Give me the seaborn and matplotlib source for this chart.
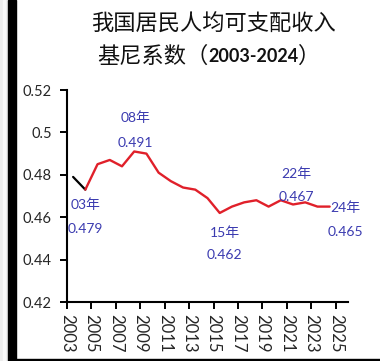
import numpy as np
import pandas as pd
import matplotlib
matplotlib.use('Agg')
import matplotlib.pyplot as plt
import seaborn as sns
from matplotlib.patches import Rectangle

# Gini coefficient of per-capita disposable income, 2003-2024
years = list(range(2003, 2025))
gini = [0.479, 0.473, 0.485, 0.487, 0.484, 0.491, 0.490, 0.481, 0.477, 0.474,
        0.473, 0.469, 0.462, 0.465, 0.467, 0.468, 0.465, 0.468, 0.466, 0.467,
        0.465, 0.465]

# labelled points: (year label, value text, x, y of label line)
notes = [('03年', '0.479', 2004.0, 0.4657, 0.4544),
         ('08年', '0.491', 2008.1, 0.5068, 0.4950),
         ('15年', '0.462', 2015.4, 0.4525, 0.4420),
         ('22年', '0.467', 2021.3, 0.4804, 0.4695),
         ('24年', '0.465', 2025.3, 0.4643, 0.4530)]

xtick_pos = np.arange(2002.5, 2025, 2)
xtick_lab = [str(int(p + 0.5)) for p in xtick_pos]
ytick_pos = [0.42, 0.44, 0.46, 0.48, 0.50, 0.52]
ytick_lab = ['0.42', '0.44', '0.46', '0.48', '0.5', '0.52']

df = pd.DataFrame({'year': years, 'gini': gini})

sns.set_style('ticks')
plt.rcParams['font.family'] = ['Lato', 'Noto Sans CJK SC', 'DejaVu Sans']

fig = plt.figure(figsize=(3.8, 3.61), dpi=100)
W, H = 380, 361
ax = fig.add_axes([67 / W, 1 - 302 / H, (348 - 67) / W, (302 - 90) / H])

sns.lineplot(data=df.iloc[:2], x='year', y='gini', color='black', lw=1.6, ax=ax)
sns.lineplot(data=df.iloc[1:], x='year', y='gini', color='#e0202a', lw=1.7, ax=ax)

ax.set_xlim(2002.5, 2025.5)
ax.set_ylim(0.42, 0.52)
ax.set_xticks(xtick_pos)
ax.set_xticklabels(xtick_lab, rotation=270, fontsize=12)
ax.set_yticks(ytick_pos)
ax.set_yticklabels(ytick_lab, fontsize=10.5)
ax.set_xlabel('')
ax.set_ylabel('')
ax.tick_params(axis='both', direction='out', length=5, width=1.4, color='black')
ax.tick_params(axis='y', pad=6)
ax.tick_params(axis='x', pad=4)
sns.despine(ax=ax)
for s in ('left', 'bottom'):
    ax.spines[s].set_linewidth(1.5)
    ax.spines[s].set_color('black')

for yl, vl, x, y1, y2 in notes:
    ax.text(x, y1, yl, color='#3b3bb0', fontsize=10, ha='center', va='center', clip_on=False)
    ax.text(x, y2, vl, color='#3b3bb0', fontsize=10, ha='center', va='center', clip_on=False)

# title
fig.text(213 / W, 1 - 24 / H, '我国居民人均可支配收入', fontsize=16, ha='center', va='center',
         family=['Noto Sans CJK SC'], color='#111111')
fig.canvas.draw()
r = fig.canvas.get_renderer()
t1 = fig.text(97 / W, 1 - 56 / H, '基尼系数（', fontsize=16, ha='left', va='center',
              family=['Noto Sans CJK SC'], color='#111111')
x1 = t1.get_window_extent(r).x1
t2 = fig.text(x1 / W, 1 - 56 / H, '2003-2024', fontsize=13, fontweight='bold', ha='left',
              va='center', family=['Lato'], color='#111111')
x2 = t2.get_window_extent(r).x1
fig.text(x2 / W, 1 - 56 / H, '）', fontsize=16, ha='left', va='center',
         family=['Noto Sans CJK SC'], color='#111111')

# window frame remnants
fig.patches.append(Rectangle((0, 0), 8 / W, 1, transform=fig.transFigure, color='#ececec', zorder=0))
fig.patches.append(Rectangle((3 / W, 0), 2 / W, 1, transform=fig.transFigure, color='#f8f8f8', zorder=1))
fig.patches.append(Rectangle((8 / W, 0), 8 / W, 1, transform=fig.transFigure, color='black', zorder=5))
fig.patches.append(Rectangle((16 / W, 0), 1, 2 / H, transform=fig.transFigure, color='black', zorder=5))

fig.savefig('out.png', dpi=100)
